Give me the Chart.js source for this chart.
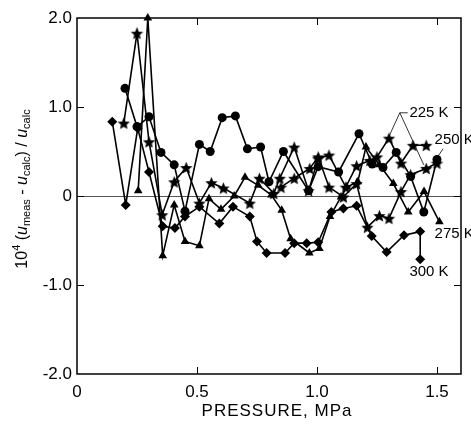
<!DOCTYPE html>
<html>
<head>
<meta charset="utf-8">
<script src="https://cdn.jsdelivr.net/npm/chart.js@4.4.1/dist/chart.umd.min.js"></script>
<style>
  html, body { margin: 0; padding: 0; background: #fff; }
  #wrap { width: 471px; height: 426px; }
</style>
</head>
<body>
<div id="wrap"><canvas id="chart"></canvas></div>
<script>
// pressure (MPa) and 10^4 (u_meas - u_calc)/u_calc
const p225a = [0.195, 0.25, 0.30, 0.355, 0.405, 0.455, 0.51, 0.56, 0.61, 0.72, 0.76, 0.82, 0.845, 0.905, 0.965, 1.005, 1.05, 1.12, 1.165, 1.22, 1.25, 1.30, 1.35, 1.40, 1.455];
const d225a = [0.82, 1.83, 0.61, -0.21, 0.16, 0.32, -0.08, 0.15, 0.09, -0.08, 0.20, 0.03, 0.20, 0.55, 0.06, 0.42, 0.46, 0.10, 0.34, 0.40, 0.44, 0.65, 0.37, 0.57, 0.57];
const p225b = [0.85, 0.905, 0.97, 1.005, 1.05, 1.11, 1.165, 1.21, 1.26, 1.30, 1.35, 1.39, 1.455, 1.50];
const d225b = [0.10, 0.20, 0.31, 0.44, 0.10, -0.01, 0.14, -0.35, -0.22, -0.25, 0.05, 0.24, 0.31, 0.37];
const p250 = [0.20, 0.25, 0.30, 0.35, 0.405, 0.45, 0.51, 0.555, 0.605, 0.66, 0.71, 0.765, 0.80, 0.86, 0.965, 1.005, 1.09, 1.175, 1.23, 1.275, 1.33, 1.39, 1.445, 1.50];
const d250 = [1.21, 0.78, 0.89, 0.49, 0.35, -0.17, 0.58, 0.50, 0.88, 0.90, 0.53, 0.55, 0.16, 0.50, 0.06, 0.33, 0.27, 0.70, 0.36, 0.32, 0.49, 0.22, -0.18, 0.41];
const p275 = [0.255, 0.295, 0.357, 0.405, 0.45, 0.51, 0.55, 0.60, 0.655, 0.70, 0.755, 0.81, 0.853, 0.89, 0.968, 1.01, 1.054, 1.10, 1.124, 1.17, 1.204, 1.26, 1.318, 1.38, 1.446, 1.51];
const d275 = [0.06, 2.0, -0.67, -0.10, -0.51, -0.56, -0.03, -0.15, 0.0, 0.21, 0.12, 0.01, -0.16, -0.48, -0.64, -0.59, -0.23, -0.01, 0.10, 0.16, 0.55, 0.35, 0.14, -0.18, 0.05, -0.29];
const p300 = [0.147, 0.203, 0.253, 0.30, 0.357, 0.408, 0.45, 0.51, 0.593, 0.65, 0.72, 0.75, 0.79, 0.867, 0.905, 0.957, 1.005, 1.06, 1.11, 1.165, 1.228, 1.29, 1.3625, 1.43, 1.43];
const d300 = [0.835, -0.10, 0.76, 0.27, -0.34, -0.36, -0.23, -0.12, -0.31, -0.12, -0.23, -0.51, -0.64, -0.64, -0.53, -0.53, -0.52, -0.18, -0.14, -0.11, -0.45, -0.63, -0.44, -0.40, -0.71];

const xTicks = [0, 0.5, 1.0, 1.5];
const yTicks = [-2, -1, 0, 1, 2];
const tempLabels = ["225 K", "250 K", "275 K", "300 K"];
const xTitle = "PRESSURE, MPa";

const FONT = "'Liberation Sans', Arial, sans-serif";

function pts(xs, ys) {
  return xs.map((x, i) => ({ x: x, y: ys[i] }));
}

function makeStar(r) {
  const c = document.createElement("canvas");
  c.width = c.height = Math.ceil(2 * r + 2);
  const g = c.getContext("2d");
  const cx = c.width / 2, cy = c.height / 2 + 0.8;
  g.beginPath();
  for (let i = 0; i < 10; i++) {
    const rad = i % 2 === 0 ? r : r * 0.45;
    const a = -Math.PI / 2 + (i * Math.PI) / 5;
    g.lineTo(cx + rad * Math.cos(a), cy + rad * Math.sin(a));
  }
  g.closePath();
  g.fillStyle = "#000";
  g.fill();
  return c;
}
const starImg = makeStar(6.5);

function series(label, data, style, radius) {
  return {
    label: label,
    data: data,
    borderColor: "#000",
    backgroundColor: "#000",
    borderWidth: 1.6,
    pointStyle: style,
    pointRadius: radius,
    pointBorderWidth: 0,
    tension: 0,
    clip: false,
  };
}

const frame = {
  id: "frame",
  afterDraw(chart) {
    const ctx = chart.ctx;
    const a = chart.chartArea;
    const xs = chart.scales.x, ys = chart.scales.y;
    ctx.save();
    ctx.strokeStyle = "#000";
    ctx.lineWidth = 1.5;
    ctx.strokeRect(a.left, a.top, a.right - a.left, a.bottom - a.top);
    ctx.lineWidth = 1;
    xTicks.forEach((v) => {
      if (v === 0) return;
      const px = Math.round(xs.getPixelForValue(v)) + 0.5;
      ctx.beginPath();
      ctx.moveTo(px, a.bottom); ctx.lineTo(px, a.bottom - 7);
      ctx.moveTo(px, a.top); ctx.lineTo(px, a.top + 7);
      ctx.stroke();
    });
    yTicks.forEach((v) => {
      if (Math.abs(v) === 2) return;
      const py = Math.round(ys.getPixelForValue(v)) + 0.5;
      ctx.beginPath();
      ctx.moveTo(a.left, py); ctx.lineTo(a.left + 7, py);
      ctx.moveTo(a.right, py); ctx.lineTo(a.right - 7, py);
      ctx.stroke();
    });

    // x axis title
    ctx.fillStyle = "#000";
    ctx.font = "17px " + FONT;
    ctx.letterSpacing = "1px";
    ctx.textAlign = "center";
    ctx.textBaseline = "middle";
    ctx.fillText(xTitle, 277, 411);
    ctx.letterSpacing = "0px";
    ctx.textAlign = "left";

    // y axis title with italic u and sub/superscripts
    const parts = [
      { t: "10", f: "16px " + FONT, dy: 0 },
      { t: "4", f: "11px " + FONT, dy: -6 },
      { t: " (", f: "16px " + FONT, dy: 0 },
      { t: "u", f: "italic 16px " + FONT, dy: 0 },
      { t: "meas", f: "11px " + FONT, dy: 4 },
      { t: " - ", f: "16px " + FONT, dy: 0 },
      { t: "u", f: "italic 16px " + FONT, dy: 0 },
      { t: "calc", f: "11px " + FONT, dy: 4 },
      { t: ") / ", f: "16px " + FONT, dy: 0 },
      { t: "u", f: "italic 16px " + FONT, dy: 0 },
      { t: "calc", f: "11px " + FONT, dy: 4 },
    ];
    let w = 0;
    parts.forEach((p) => { ctx.font = p.f; p.w = ctx.measureText(p.t).width; w += p.w; });
    ctx.translate(23, 189);
    ctx.rotate(-Math.PI / 2);
    let x = -w / 2;
    parts.forEach((p) => { ctx.font = p.f; ctx.fillText(p.t, x, p.dy); x += p.w; });
    ctx.restore();

    // temperature labels with leader lines
    ctx.save();
    ctx.font = "15px " + FONT;
    ctx.fillStyle = "#000";
    ctx.strokeStyle = "#000";
    ctx.lineWidth = 0.8;
    ctx.textBaseline = "middle";
    const X = (v) => xs.getPixelForValue(v), Y = (v) => ys.getPixelForValue(v);
    ctx.fillText(tempLabels[0], X(1.385), Y(0.935));
    ctx.beginPath();
    ctx.moveTo(X(1.378), Y(0.935)); ctx.lineTo(X(1.345), Y(0.935));
    ctx.lineTo(X(1.30), Y(0.67));
    ctx.moveTo(X(1.345), Y(0.935)); ctx.lineTo(X(1.445), Y(0.35));
    ctx.stroke();
    ctx.fillText(tempLabels[1], X(1.49), Y(0.63));
    ctx.beginPath();
    ctx.moveTo(X(1.525), Y(0.53)); ctx.lineTo(X(1.505), Y(0.45));
    ctx.stroke();
    ctx.fillText(tempLabels[2], X(1.49), Y(-0.43));
    ctx.fillText(tempLabels[3], X(1.385), Y(-0.85));
    ctx.restore();
  },
};

new Chart(document.getElementById("chart"), {
  type: "line",
  data: {
    datasets: [
      series("225 K", pts(p225a, d225a), starImg, 6),
      series("225 K", pts(p225b, d225b), starImg, 6),
      series("250 K", pts(p250, d250), "circle", 4.5),
      series("275 K", pts(p275, d275), "triangle", 5),
      series("300 K", pts(p300, d300), "rectRot", 5),
    ],
  },
  options: {
    responsive: true,
    maintainAspectRatio: false,
    animation: false,
    layout: { padding: { top: 18, right: 10, left: 0, bottom: 0 } },
    plugins: { legend: { display: false }, tooltip: { enabled: false } },
    scales: {
      x: {
        type: "linear",
        min: 0,
        max: 1.6,
        afterFit: (s) => { s.height = 52; },
        afterBuildTicks: (s) => { s.ticks = xTicks.map((v) => ({ value: v })); },
        grid: { display: false },
        border: { display: false },
        ticks: {
          color: "#000",
          padding: 0,
          font: { family: FONT, size: 17 },
          callback: (v) => (v === 0 ? "0" : v.toFixed(1)),
        },
      },
      y: {
        min: -2,
        max: 2,
        afterFit: (s) => { s.width = 77; },
        afterBuildTicks: (s) => { s.ticks = yTicks.map((v) => ({ value: v })); },
        grid: {
          drawTicks: false,
          color: (c) => (c.tick && c.tick.value === 0 ? "#555" : "rgba(0,0,0,0)"),
          lineWidth: 1,
        },
        border: { display: false },
        ticks: {
          color: "#000",
          padding: 5,
          font: { family: FONT, size: 17 },
          callback: (v) => (v === 0 ? "0" : v.toFixed(1)),
        },
      },
    },
  },
  plugins: [frame],
});
</script>
</body>
</html>
